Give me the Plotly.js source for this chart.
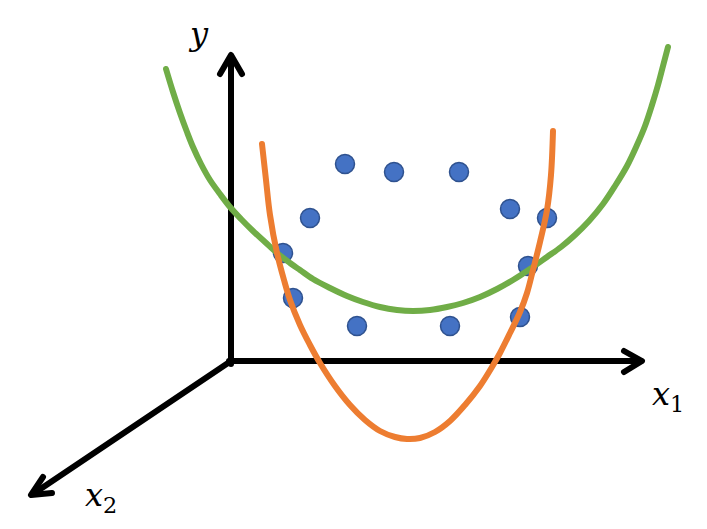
<!DOCTYPE html>
<html>
<head>
<meta charset="utf-8">
<script src="https://cdn.plot.ly/plotly-3.0.1.min.js"></script>
<style>html,body{margin:0;padding:0;background:#fff;}#plot{width:707px;height:529px;}</style>
</head>
<body>
<div id="plot"></div>
<script>
// Data points (blue dots) (pixel-like units)
const dotX = [345, 394, 459, 310, 510, 547, 283, 528, 293, 357, 450, 520];
const dotY = [164, 172, 172, 218, 209, 218, 253, 266, 298, 326, 326, 317];

// Green curve (wide parabola) sample points
const greenX = [166, 173, 180, 187, 193, 201, 210, 220, 230, 241, 253, 265, 277, 290, 300, 313, 330, 347, 363, 380, 397, 413,
                430, 447, 463, 480, 497, 513, 530, 547, 561, 575, 589, 603, 615, 627, 637, 645, 652, 658, 663, 668];
const greenY = [69, 92, 113, 132, 147, 164, 180, 194, 207, 219, 231, 242, 253, 263, 270, 279, 288, 296, 302, 307, 310, 311,
                310, 307, 303, 297, 289, 280, 269, 257, 247, 235, 221, 204, 186, 166, 145, 126, 105, 85, 66, 47];

// Orange curve (narrow parabola) sample points
const orangeX = [262, 266, 270, 277, 284, 290, 300, 310, 320, 335, 350, 365, 380, 395, 407,
                 420, 435, 450, 465, 480, 492, 500, 510, 520, 527, 533, 540, 547, 551, 553];
const orangeY = [144, 180, 215, 253, 280, 300, 325, 345, 363, 386, 405, 420, 431, 437, 439,
                 438, 432, 421, 405, 386, 367, 353, 333, 312, 293, 270, 242, 210, 175, 131];

// Coordinate axes (shafts and arrow heads)
const yAxisX = [231, 231];
const yAxisY = [364, 57];
const yHeadX = [220, 231, 242];
const yHeadY = [74, 55, 74];
const x1AxisX = [229, 641];
const x1AxisY = [361, 361];
const x1HeadX = [624, 642, 624];
const x1HeadY = [351, 361, 372];
const x2AxisX = [231, 33];
const x2AxisY = [361, 494];
const x2HeadX = [43, 31, 52];
const x2HeadY = [477, 495, 493];

// Axis labels
const labelText = ['<i>y</i>', '<i>x</i><sub>1</sub>', '<i>x</i><sub>2</sub>'];
const labelX = [198, 668, 101];
const labelY = [34, 396, 497];

const black = {color: '#000000', width: 6};
function seg(x, y, line) {
  return {x: x, y: y, mode: 'lines', type: 'scatter', line: line, hoverinfo: 'skip', showlegend: false};
}

const traces = [
  seg(yAxisX, yAxisY, black),
  seg(yHeadX, yHeadY, black),
  seg(x1AxisX, x1AxisY, black),
  seg(x1HeadX, x1HeadY, black),
  seg(x2AxisX, x2AxisY, black),
  seg(x2HeadX, x2HeadY, black),
  {x: dotX, y: dotY, mode: 'markers', type: 'scatter', showlegend: false, hoverinfo: 'skip',
   marker: {size: 19, color: '#4472C4', line: {color: '#2F528F', width: 1.5}}},
  seg(greenX, greenY, {color: '#70AD47', width: 6, shape: 'spline', smoothing: 1}),
  seg(orangeX, orangeY, {color: '#ED7D31', width: 6, shape: 'spline', smoothing: 1})
];

const annotations = labelText.map((t, i) => ({
  text: t, x: labelX[i], y: labelY[i], xref: 'x', yref: 'y', showarrow: false,
  xanchor: 'center', yanchor: 'middle',
  font: {family: 'DejaVu Serif, Liberation Serif, serif', size: 32, color: '#000000'}
}));

const layout = {
  width: 707, height: 529, autosize: false,
  margin: {l: 0, r: 0, t: 0, b: 0, pad: 0},
  paper_bgcolor: '#ffffff', plot_bgcolor: '#ffffff',
  xaxis: {range: [0, 707], visible: false, fixedrange: true},
  yaxis: {range: [529, 0], visible: false, fixedrange: true},
  annotations: annotations,
  showlegend: false
};

Plotly.newPlot('plot', traces, layout, {staticPlot: true, displayModeBar: false}).then(function () {
  document.querySelectorAll('.scatterlayer .js-line').forEach(function (p) {
    p.style.strokeLinecap = 'round';
    p.style.strokeLinejoin = 'round';
  });
});
</script>
</body>
</html>
